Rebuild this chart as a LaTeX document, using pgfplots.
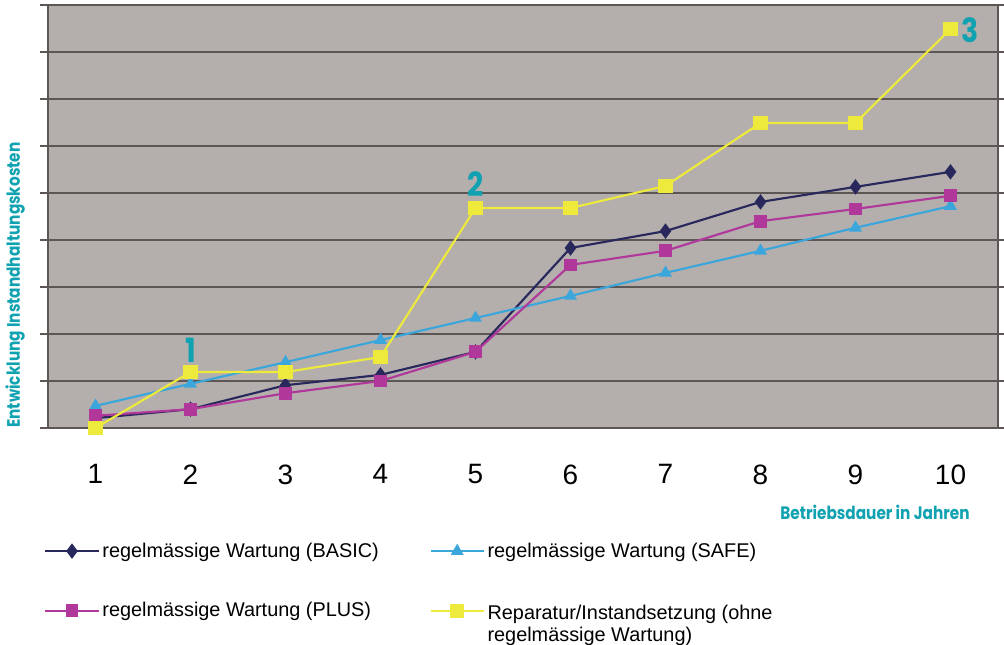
\documentclass[border=0pt]{standalone}
\usepackage{fontspec}
\setmainfont{Liberation Sans}
\newfontfamily\tealfont[FakeStretch=0.85]{Poppins}
\usepackage{pgfplots}
\pgfplotsset{compat=1.18}

\definecolor{plotbg}{RGB}{180,175,173}
\definecolor{gridc}{RGB}{92,86,84}
\definecolor{teal1}{RGB}{16,162,176}
\definecolor{cbasic}{RGB}{40,40,92}
\definecolor{csafe}{RGB}{58,166,220}
\definecolor{cplus}{RGB}{176,56,154}
\definecolor{crep}{RGB}{238,234,60}

\begin{document}
\begin{tikzpicture}
  \path[use as bounding box] (0,0) rectangle (753pt,483.75pt);
  \begin{axis}[
    at={(36pt,162.75pt)}, anchor=south west,
    scale only axis,
    width=712.5pt, height=317.25pt,
    xmin=0.5, xmax=10.5, ymin=0, ymax=9,
    axis background/.style={fill=plotbg},
    axis line style={draw=gridc, line width=1.2pt},
    xtick={1,...,10},
    xticklabels={1,2,3,4,5,6,7,8,9,10},
    xtick style={draw=none},
    minor xtick={0.5,1.5,...,10.5},
    minor tick length=7pt,
    minor tick style={draw=gridc, line width=1pt},
    ytick={0,...,9},
    yticklabels={},
    ytick style={draw=gridc, line width=1pt},
    major tick length=6pt,
    tick align=outside,
    ymajorgrids,
    grid style={draw=gridc, line width=1.2pt},
    xticklabel style={font=\fontsize{21}{21}\selectfont, yshift=-18pt},
    xlabel={\tealfont\bfseries Betriebsdauer in Jahren},
    xlabel style={at={(axis description cs:0.8705,-0.1986)}, anchor=center,
      font=\fontsize{13.5}{13.5}\selectfont, text=teal1},
    ylabel={\tealfont\bfseries Entwicklung Instandhaltungskosten},
    ylabel style={at={(axis description cs:-0.0347,0.338)}, anchor=center,
      font=\fontsize{13.5}{13.5}\selectfont, text=teal1},
    legend columns=2,
    legend style={at={(axis description cs:0,0)}, anchor=north west,
      yshift=-82pt, xshift=-6pt,
      draw=none, fill=none,
      font=\fontsize{14.9}{17}\selectfont,
      row sep=10pt,
      /tikz/every even column/.append style={column sep=36pt}},
    legend cell align=left,
    legend image code/.code={
      \draw[mark repeat=2,mark phase=2,#1]
        plot coordinates {(0pt,0pt) (20pt,0pt) (40pt,0pt)};
    },
    every axis plot/.append style={line width=1.6pt},
  ]
    \addplot[color=cbasic, mark=diamond*, mark size=4.5pt] coordinates {
      (1,0.21) (2,0.40) (3,0.91) (4,1.13) (5,1.62)
      (6,3.83) (7,4.19) (8,4.81) (9,5.13) (10,5.45)
    };
    \addlegendentry{regelmässige Wartung (BASIC)}
    \addplot[color=csafe, mark=triangle*, mark size=4pt] coordinates {
      (1,0.47) (2,0.94) (3,1.40) (4,1.87) (5,2.34)
      (6,2.81) (7,3.30) (8,3.77) (9,4.26) (10,4.72)
    };
    \addlegendentry{regelmässige Wartung (SAFE)}
    \addplot[color=cplus, mark=square*, mark size=4pt] coordinates {
      (1,0.26) (2,0.40) (3,0.74) (4,1.00) (5,1.62)
      (6,3.47) (7,3.77) (8,4.40) (9,4.66) (10,4.94)
    };
    \addlegendentry{regelmässige Wartung (PLUS)}
    \addplot[color=crep, mark=square*, mark size=4.5pt] coordinates {
      (1,0) (2,1.19) (3,1.19) (4,1.51) (5,4.68)
      (6,4.68) (7,5.15) (8,6.49) (9,6.49) (10,8.49)
    };
    \addlegendentry{\shortstack[l]{\strut\\Reparatur/Instandsetzung (ohne\\regelmässige Wartung)}}

    \node[text=teal1, font=\tealfont\bfseries\fontsize{25}{25}\selectfont]
      at (axis cs:2,1.66) {1};
    \node[text=teal1, font=\tealfont\bfseries\fontsize{25}{25}\selectfont]
      at (axis cs:5,5.19) {2};
    \node[text=teal1, font=\tealfont\bfseries\fontsize{25}{25}\selectfont, anchor=west, inner sep=1pt]
      at (axis cs:10.1,8.47) {3};
  \end{axis}
\end{tikzpicture}
\end{document}
